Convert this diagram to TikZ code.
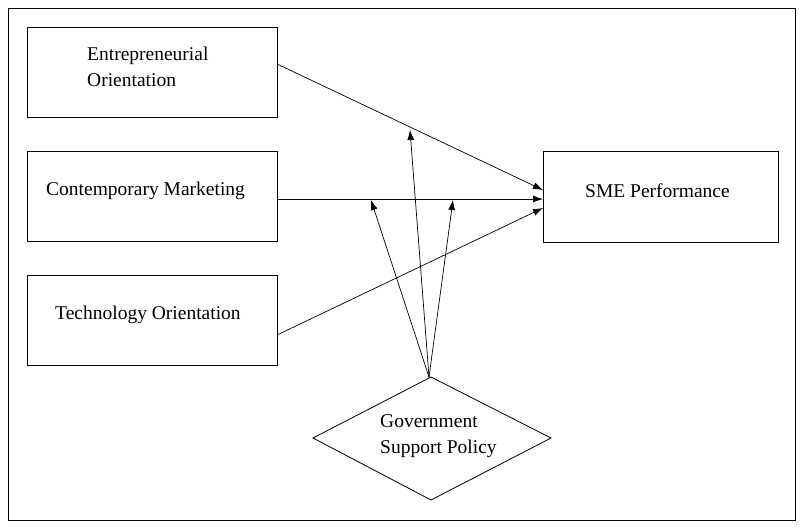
\documentclass[tikz,border=0pt]{standalone}
\usepackage{fontspec}
\setmainfont{Liberation Serif}
\usetikzlibrary{arrows.meta}
\begin{document}
\begin{tikzpicture}[x=1pt,y=-1pt,
  box/.style={draw,line width=0.8pt},
  txt/.style={font=\fontsize{19.5}{26}\selectfont,align=left,inner sep=0pt},
  arr/.style={-{Latex[length=10pt,width=7pt]},line width=0.7pt}]
\useasboundingbox (0,0) rectangle (803,528);
\draw[line width=0.7pt] (8,8) rectangle (795,520);
\draw[box] (27,27) rectangle (277,117);
\draw[box] (27,151) rectangle (277,241);
\draw[box] (27,275) rectangle (277,365);
\draw[box] (543,151) rectangle (778,242);
\draw[box] (431,377) -- (551,438) -- (431,500) -- (313,438) -- cycle;
\node[txt,anchor=west] (eo) at (87,67) {Entrepreneurial\\Orientation};
\node[txt,anchor=west] (cm) at (46,191) {Contemporary Marketing};
\node[txt,anchor=west] (to) at (55,315) {Technology Orientation};
\node[txt,anchor=west] (sme) at (585,191) {SME Performance};
\node[txt,anchor=west] (gsp) at (380,436) {Government\\Support Policy};
\coordinate (eoR) at (277,64);
\coordinate (cmR) at (277,199);
\coordinate (toR) at (277,335);
\coordinate (s1) at (543,190);
\coordinate (s2) at (543,199);
\coordinate (s3) at (543,208);
\coordinate (top) at (429,377);
\coordinate (m1) at (410,130);
\coordinate (m2) at (371,200);
\coordinate (m3) at (453,200);
\draw[arr] (eoR) -- (s1);
\draw[arr] (cmR) -- (s2);
\draw[arr] (toR) -- (s3);
\draw[arr] (top) -- (m1);
\draw[arr] (top) -- (m2);
\draw[arr] (top) -- (m3);
\end{tikzpicture}
\end{document}
